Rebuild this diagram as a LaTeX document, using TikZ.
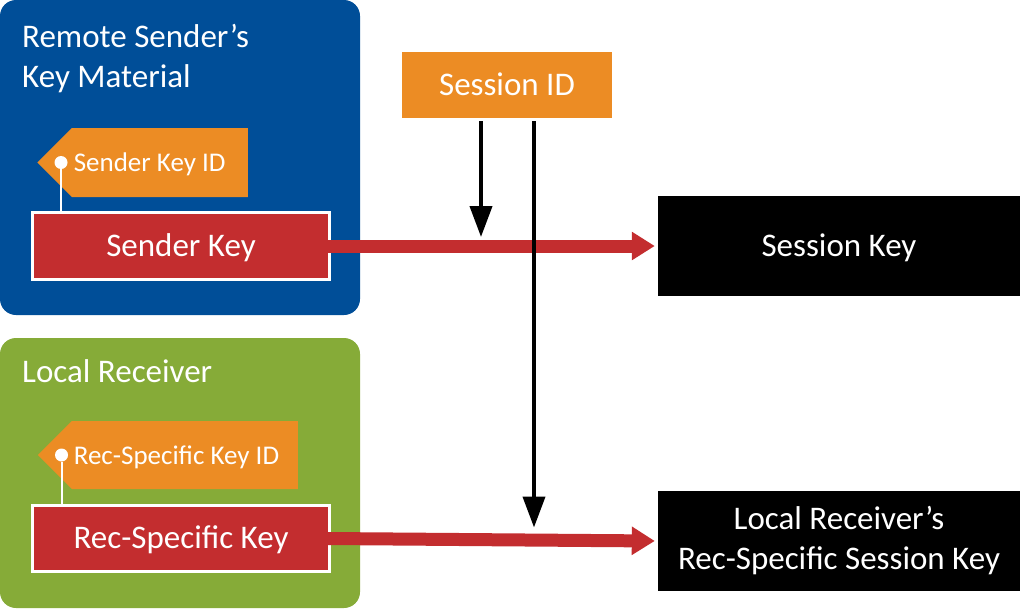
\documentclass[tikz,border=0pt]{standalone}
\usepackage{fontspec}
\setmainfont{Carlito}
\usetikzlibrary{arrows.meta,positioning,shapes.symbols}
\definecolor{keyblue}{RGB}{0,78,152}
\definecolor{keygreen}{RGB}{134,171,56}
\definecolor{keyorange}{RGB}{236,140,36}
\definecolor{keyred}{RGB}{195,45,47}

\begin{document}
\begin{tikzpicture}[
    x=1pt,y=-1pt,>=Latex,
    every node/.style={text=white,font=\fontsize{33}{40}\selectfont},
    group/.style={rounded corners=16pt,inner sep=0pt,minimum width=360pt},
    tag/.style={signal,signal to=west,signal pointer angle=90,fill=keyorange,font=\fontsize{27}{32}\selectfont,inner xsep=2pt,align=flush left,text height=20pt,text depth=2pt,anchor=east},
    dot/.style={circle,fill=white,inner sep=0pt,minimum size=13pt},
    key/.style={fill=keyred,draw=white,line width=3pt,minimum width=297pt,minimum height=67pt,text height=23pt,text depth=3pt},
    outbox/.style={fill=black,minimum width=362pt,minimum height=100pt,inner sep=0pt,align=center},
    flow/.style={draw=keyred,line width=13pt,-{Triangle[length=23pt,width=27pt]},shorten >=3pt},
    feed/.style={draw=black,line width=4pt,-{Triangle[length=31pt,width=22pt]},shorten <=3pt}
  ]
  \useasboundingbox (0,0) rectangle (1020,608);
  % groups
  \node[group,fill=keyblue,minimum height=315pt] (remote) at (180,157.5) {};
  \node[group,fill=keygreen,minimum height=270pt] (local) at (180,473) {};
  \node[anchor=north west,inner sep=0pt,align=left] (remotelbl) at (22,24) {Remote Sender's\\Key Material};
  \node[anchor=north west,inner sep=0pt,align=left] (locallbl) at (22,359) {Local Receiver};
  % keys and tags
  \node[tag,text width=172pt,minimum height=69pt] (skid) at (248,162.5) {Sender Key ID};
  \node[key] (skey) at (181,246) {Sender Key};
  \node[tag,text width=222pt,minimum height=68pt] (rkid) at (298,455) {Rec-Specific Key ID};
  \node[key,minimum height=66pt] (rkey) at (181,538.5) {Rec-Specific Key};
  \node[dot] (skdot) at ([xshift=24pt]skid.west) {};
  \node[dot] (rkdot) at ([xshift=24pt]rkid.west) {};
  \draw[white,line width=2pt] (skdot) -- (skdot |- skey.north);
  \draw[white,line width=2pt] (rkdot) -- (rkdot |- rkey.north);
  % session
  \node[fill=keyorange,minimum width=210pt,minimum height=66pt,text height=23pt,text depth=3pt] (sid) at (507,85) {Session ID};
  \node[outbox,text height=23pt,text depth=3pt] (seskey) at (839,246) {Session Key};
  \node[outbox] (rseskey) at (839,541) {Local Receiver's\\Rec-Specific Session Key};
  \coordinate (sidl) at ([xshift=-26pt]sid.south);
  \coordinate (sidr) at ([xshift=27pt]sid.south);
  \draw[flow] ([xshift=-3pt]skey.east) -- (seskey.west);
  \draw[flow] ([xshift=-3pt]rkey.east) -- (rseskey.west);
  \draw[feed,shorten >=9pt] (sidl) -- (sidl |- skey.east);
  \draw[feed,shorten >=11pt] (sidr) -- (sidr |- rkey.east);
\end{tikzpicture}
\end{document}
